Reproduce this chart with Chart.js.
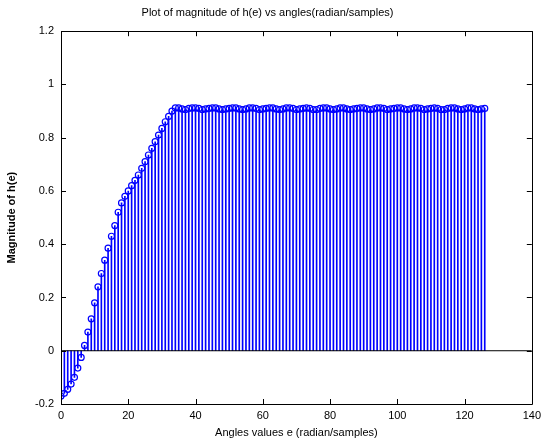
<!DOCTYPE html>
<html>
<head>
<meta charset="utf-8">
<script src="https://cdn.jsdelivr.net/npm/chart.js@4/dist/chart.umd.min.js"></script>
<style>
  html, body { margin: 0; padding: 0; background: #fff; }
  #wrap { width: 546px; height: 445px; }
</style>
</head>
<body>
<div id="wrap"><canvas id="c" width="546" height="445"></canvas></div>
<script>
// Sample indices (angles, radian/samples)
const angles = [0,1,2,3,4,5,6,7,8,9,10,11,12,13,14,15,16,17,18,19,20,21,22,23,24,25,26,27,28,29,30,31,32,33,34,35,36,37,38,39,40,41,42,43,44,45,46,47,48,49,50,51,52,53,54,55,56,57,58,59,60,61,62,63,64,65,66,67,68,69,70,71,72,73,74,75,76,77,78,79,80,81,82,83,84,85,86,87,88,89,90,91,92,93,94,95,96,97,98,99,100,101,102,103,104,105,106,107,108,109,110,111,112,113,114,115,116,117,118,119,120,121,122,123,124,125,126];

// Magnitude of h(e)
const magnitude = [
  -0.17,-0.16,-0.145,-0.125,-0.1,-0.065,-0.025,0.02,0.07,0.12,
  0.18,0.24,0.29,0.34,0.385,0.43,0.47,0.52,0.555,0.58,
  0.6,0.62,0.64,0.66,0.685,0.71,0.735,0.76,0.785,0.81,
  0.835,0.86,0.88,0.9,
  0.912,0.912,0.908,0.906,0.91,0.912,0.912,0.91,0.906,0.908,
  0.91,0.912,0.912,0.908,0.906,0.908,0.91,0.912,0.912,0.908,
  0.906,0.908,0.912,0.912,0.91,0.906,0.908,0.91,0.912,0.912,
  0.908,0.906,0.908,0.912,0.912,0.91,0.906,0.908,0.91,0.912,
  0.91,0.906,0.906,0.91,0.912,0.912,0.908,0.906,0.908,0.912,
  0.912,0.908,0.906,0.908,0.91,0.912,0.912,0.908,0.906,0.908,
  0.912,0.912,0.91,0.906,0.908,0.91,0.912,0.912,0.908,0.906,
  0.908,0.912,0.912,0.91,0.906,0.908,0.91,0.912,0.91,0.906,
  0.906,0.91,0.912,0.912,0.908,0.906,0.908,0.912,0.912,0.908,
  0.906,0.908,0.91
];

const xTicks = [0,20,40,60,80,100,120,140];
const yTicks = [-0.2,0,0.2,0.4,0.6,0.8,1,1.2];

const titleText = 'Plot of magnitude of h(e) vs angles(radian/samples)';
const xLabel = 'Angles values e (radian/samples)';
const yLabel = 'Magnitude of h(e)';

const points = angles.map((a, i) => ({ x: a, y: magnitude[i] }));

const FONT = 'Arial, "Liberation Sans", sans-serif';

const framePlugin = {
  id: 'frame',
  afterDraw(chart) {
    const { ctx, chartArea: a, scales } = chart;
    ctx.save();
    ctx.strokeStyle = '#000';
    ctx.lineWidth = 1;
    ctx.beginPath();
    ctx.rect(Math.round(a.left) + 0.5, Math.round(a.top) + 0.5,
             Math.round(a.right - a.left), Math.round(a.bottom - a.top));
    ctx.stroke();
    const L = 5;
    ctx.beginPath();
    xTicks.forEach(v => {
      const px = Math.round(scales.x.getPixelForValue(v)) + 0.5;
      ctx.moveTo(px, a.bottom); ctx.lineTo(px, a.bottom - L);
      ctx.moveTo(px, a.top); ctx.lineTo(px, a.top + L);
    });
    yTicks.forEach(v => {
      const py = Math.round(scales.y.getPixelForValue(v)) + 0.5;
      ctx.moveTo(a.left, py); ctx.lineTo(a.left + L, py);
      ctx.moveTo(a.right, py); ctx.lineTo(a.right - L, py);
    });
    ctx.stroke();
    ctx.restore();
  }
};

new Chart(document.getElementById('c'), {
  type: 'scatter',
  data: {
    datasets: [
      {
        type: 'line',
        data: [{ x: 0, y: 0 }, { x: 140, y: 0 }],
        borderColor: '#000',
        borderWidth: 1,
        pointRadius: 0,
        order: 0
      },
      {
        type: 'scatter',
        data: points,
        pointStyle: 'circle',
        pointRadius: 3,
        pointBorderWidth: 1.2,
        pointBorderColor: '#0000ff',
        pointBackgroundColor: 'rgba(0,0,0,0)',
        order: 1
      },
      {
        type: 'bar',
        data: points,
        backgroundColor: '#0000ff',
        borderWidth: 0,
        barThickness: 1,
        order: 2
      }
    ]
  },
  options: {
    responsive: false,
    animation: false,
    devicePixelRatio: 1,
    layout: { padding: { left: 0, right: 11, top: 0, bottom: 0 } },
    plugins: {
      legend: { display: false },
      tooltip: { enabled: false },
      title: {
        display: true,
        text: titleText,
        color: '#000',
        font: { family: FONT, size: 11, weight: 'normal' },
        padding: { top: 6, bottom: 12 }
      }
    },
    scales: {
      x: {
        type: 'linear',
        min: 0, max: 140,
        offset: false,
        grid: { display: false, drawTicks: false },
        border: { display: false },
        afterBuildTicks(scale) { scale.ticks = xTicks.map(v => ({ value: v })); },
        ticks: {
          color: '#000',
          padding: 5,
          font: { family: FONT, size: 11 },
          maxRotation: 0,
          callback: v => String(v)
        },
        title: {
          display: true,
          text: xLabel,
          color: '#000',
          font: { family: FONT, size: 11 },
          padding: { top: 0, bottom: 5 }
        },
        afterFit(scale) { scale.height = 41; }
      },
      y: {
        type: 'linear',
        min: -0.2, max: 1.2,
        grid: { display: false, drawTicks: false },
        border: { display: false },
        afterBuildTicks(scale) { scale.ticks = yTicks.map(v => ({ value: v })); },
        ticks: {
          color: '#000',
          padding: 7,
          font: { family: FONT, size: 11 },
          callback: v => String(Number(v.toFixed(1)))
        },
        title: {
          display: true,
          text: yLabel,
          color: '#000',
          font: { family: FONT, size: 11, weight: 'bold' },
          padding: { top: 5, bottom: 0 }
        },
        afterFit(scale) { scale.width = 61; }
      }
    }
  },
  plugins: [framePlugin]
});
</script>
</body>
</html>
